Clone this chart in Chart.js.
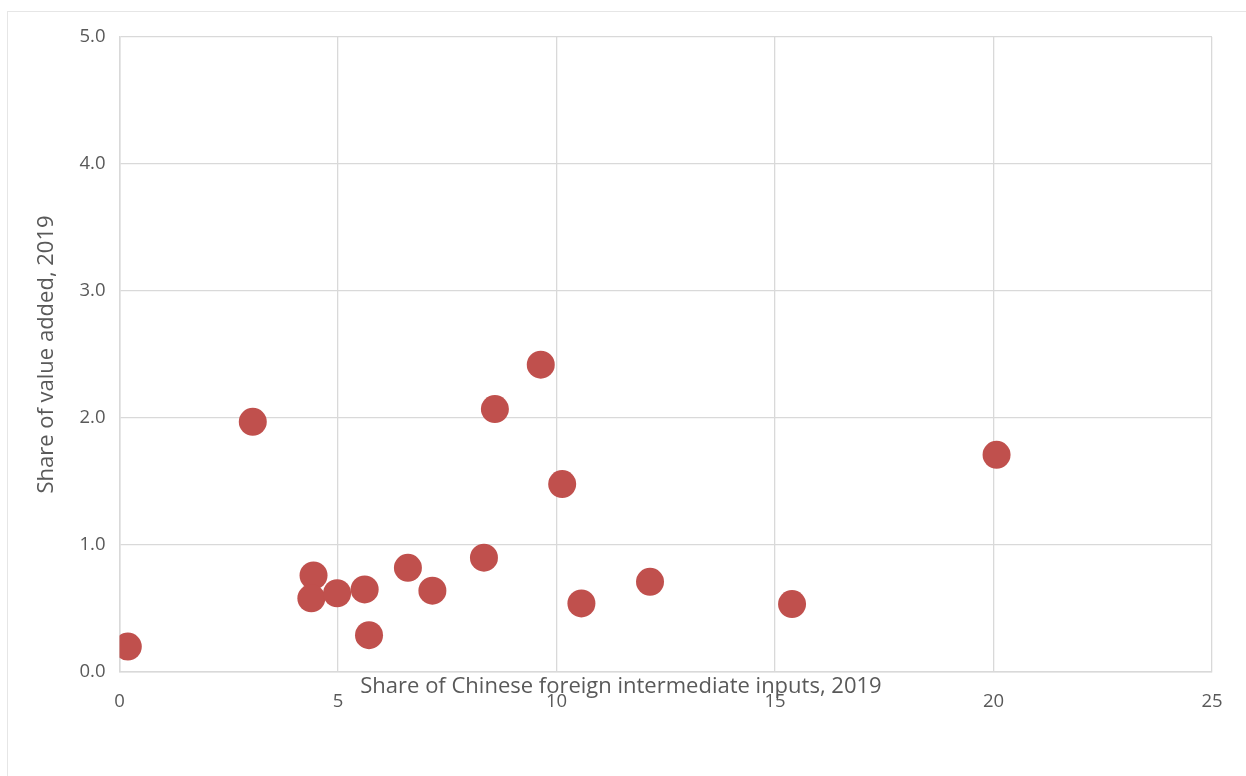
<!DOCTYPE html>
<html>
<head>
<meta charset="utf-8">
<script src="https://cdn.jsdelivr.net/npm/chart.js@4"></script>
<style>
  html, body { margin: 0; padding: 0; background: #fff; overflow: hidden; }
  #frame { position: absolute; left: 7px; top: 11px; width: 1400px; height: 900px; border: 1px solid #e6e6e6; }
  #wrap { position: absolute; left: 0; top: 0; width: 1246px; height: 776px; }
</style>
</head>
<body>
<div id="frame"></div>
<div id="wrap"><canvas id="chart"></canvas></div>
<script>
// ======================
// DATA
// ======================
const chineseInputs = [0.19, 3.05, 4.44, 4.39, 4.98, 5.61, 5.71, 6.60, 7.16, 8.34, 8.59, 9.64, 10.13, 10.57, 12.14, 15.39, 20.07];
const valueAdded    = [0.20, 1.97, 0.76, 0.58, 0.62, 0.65, 0.29, 0.82, 0.64, 0.90, 2.07, 2.42, 1.48, 0.54, 0.71, 0.535, 1.71];
const xTicks = [0, 5, 10, 15, 20, 25];
const yTicks = [0, 1, 2, 3, 4, 5];

const xTitle = "Share of Chinese foreign intermediate inputs, 2019";
const yTitle = "Share of value added, 2019";

const points = chineseInputs.map((x, i) => ({ x: x, y: valueAdded[i] }));

const gray = "#595959";
const gridColor = "#d9d9d9";
const fontFamily = "'Open Sans', 'Noto Sans', sans-serif";

// x title sits over the tick labels, a bit left of centre
const xTitlePlugin = {
  id: "xTitle",
  afterDraw(chart) {
    const { ctx, chartArea } = chart;
    ctx.save();
    ctx.font = "22px " + fontFamily;
    ctx.fillStyle = gray;
    ctx.textAlign = "center";
    ctx.textBaseline = "middle";
    ctx.fillText(xTitle, chartArea.left + chartArea.width * 0.459, chartArea.bottom + 15);
    ctx.restore();
  }
};

new Chart(document.getElementById("chart"), {
  type: "scatter",
  data: {
    datasets: [{
      data: points,
      backgroundColor: "#C0504D",
      borderColor: "#C0504D",
      pointRadius: 14,
      pointHoverRadius: 14,
      borderWidth: 0
    }]
  },
  options: {
    responsive: true,
    maintainAspectRatio: false,
    animation: false,
    layout: { padding: { left: 0, top: 37, right: 34, bottom: 0 } },
    plugins: {
      legend: { display: false },
      tooltip: { enabled: false }
    },
    scales: {
      x: {
        type: "linear",
        min: 0,
        max: 25,
        afterBuildTicks: s => { s.ticks = xTicks.map(v => ({ value: v })); },
        afterFit: s => { s.height = 104; },
        grid: { color: gridColor, lineWidth: 1.3, drawTicks: false },
        border: { color: gridColor, width: 1.5 },
        ticks: { color: gray, padding: 19, font: { family: fontFamily, size: 18.5 } }
      },
      y: {
        type: "linear",
        min: 0,
        max: 5,
        afterBuildTicks: s => { s.ticks = yTicks.map(v => ({ value: v })); },
        afterFit: s => { s.width = 119.5; },
        grid: { color: gridColor, lineWidth: 1.3, drawTicks: false },
        border: { color: gridColor, width: 1.5 },
        ticks: {
          color: gray,
          padding: 14,
          font: { family: fontFamily, size: 18.5 },
          callback: v => v.toFixed(1)
        },
        title: {
          display: true,
          text: yTitle,
          color: gray,
          font: { family: fontFamily, size: 22 },
          padding: { top: 33.8, bottom: 0 }
        }
      }
    }
  },
  plugins: [xTitlePlugin]
});
</script>
</body>
</html>
